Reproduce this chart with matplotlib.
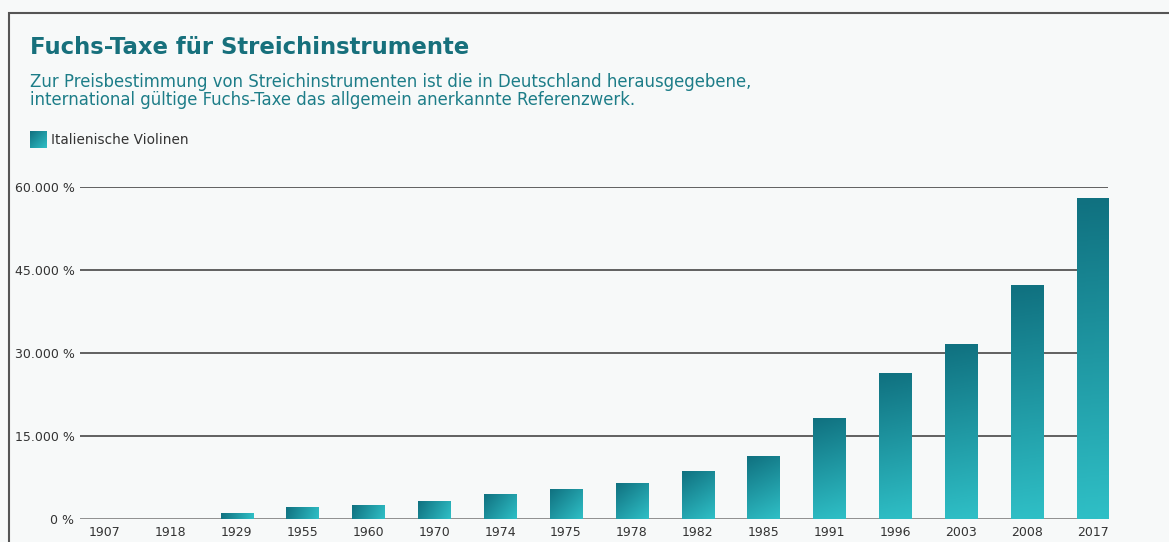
import numpy as np
import matplotlib
matplotlib.use("Agg")
import matplotlib.pyplot as plt
from matplotlib.colors import LinearSegmentedColormap
from matplotlib.patches import Rectangle
from matplotlib.ticker import FuncFormatter

# Fuchs-Taxe data
years = ["1907", "1918", "1929", "1955", "1960", "1970", "1974", "1975",
         "1978", "1982", "1985", "1991", "1996", "2003", "2008", "2017"]
values = [0, 0, 1000, 2100, 2500, 3200, 4500, 5400,
          6500, 8600, 11400, 18250, 26400, 31650, 42350, 57950]
y_ticks = [0, 15000, 30000, 45000, 60000]

title = "Fuchs-Taxe für Streichinstrumente"
subtitle = ("Zur Preisbestimmung von Streichinstrumenten ist die in Deutschland herausgegebene,\n"
            "international gültige Fuchs-Taxe das allgemein anerkannte Referenzwerk.")
series_name = "Italienische Violinen"

BG = "#f7f9f9"
TEAL = "#17707c"
grad = LinearSegmentedColormap.from_list("teal", ["#107180", "#2fbfc6"])

plt.rcParams['font.family'] = ['DejaVu Sans']


def gradient_img(w_px, h_px, n=64):
    # corner-to-corner gradient in pixel space: dark top-left -> light bottom-right
    # (row 0 = top)
    xs = np.linspace(0, w_px, n)
    ys = np.linspace(0, h_px, n)
    X, Y = np.meshgrid(xs, ys)
    return (X * w_px + Y * h_px) / (w_px ** 2 + h_px ** 2)


fig = plt.figure(figsize=(11.69, 5.42), dpi=100, facecolor=BG)
ax = fig.add_axes([80 / 1169, 1 - 518.7 / 542, 1028 / 1169, 331.5 / 542])
ax.set_facecolor(BG)

x = np.arange(len(years))
ax.set_xlim(-0.38, len(years) - 1 + 0.23)
ax.set_ylim(0, 60000)
bars = ax.bar(x, values, width=0.49, color="none", zorder=3)
for b in bars:
    h = b.get_height()
    if h <= 0:
        continue
    x0 = b.get_x()
    (px0, py0), (px1, py1) = ax.transData.transform([(x0, 0), (x0 + b.get_width(), h)])
    img = gradient_img(px1 - px0, py1 - py0)
    ax.imshow(img, cmap=grad, origin="upper", aspect="auto",
              extent=(x0, x0 + b.get_width(), 0, h), zorder=3,
              interpolation="bilinear")

ax.set_xlim(-0.38, len(years) - 1 + 0.23)
ax.set_ylim(0, 60000)
ax.set_yticks(y_ticks)
ax.yaxis.set_major_formatter(FuncFormatter(
    lambda v, p: "0 %" if v == 0 else f"{int(v):,} %".replace(",", ".")))
ax.set_xticks(x)
ax.set_xticklabels(years)
for yt in y_ticks:
    ax.axhline(yt, color="#888888" if yt == 0 else "#555555", lw=1.3, zorder=1)
for s in ax.spines.values():
    s.set_visible(False)
ax.tick_params(axis="both", length=0, labelsize=9.0, colors="#333333")
ax.tick_params(axis="y", pad=4)
ax.tick_params(axis="x", pad=5)

# frame line of the card
fig.patches.append(Rectangle((9 / 1169, -0.1), 1.2, 1 - 13 / 542 + 0.1,
                             transform=fig.transFigure, fill=False,
                             edgecolor="#555555", lw=1.5))

fig.text(30 / 1169, 1 - 47 / 542, title, fontsize=16.35, fontweight="bold",
         color=TEAL, va="center", ha="left")
fig.text(30 / 1169, 1 - 91 / 542, subtitle, fontsize=11.9, color="#1d7d88",
         va="center", ha="left", linespacing=0.98)

# legend swatch with gradient
lax = fig.add_axes([30 / 1169, 1 - 148 / 542, 17 / 1169, 17 / 542])
lax.imshow(gradient_img(17, 17), cmap=grad, origin="upper",
           aspect="auto", extent=(0, 1, 0, 1))
lax.axis("off")
fig.text(51 / 1169, 1 - 140 / 542, series_name, fontsize=9.8, color="#333333",
         va="center", ha="left")

fig.savefig("out.png", dpi=100, facecolor=BG)
